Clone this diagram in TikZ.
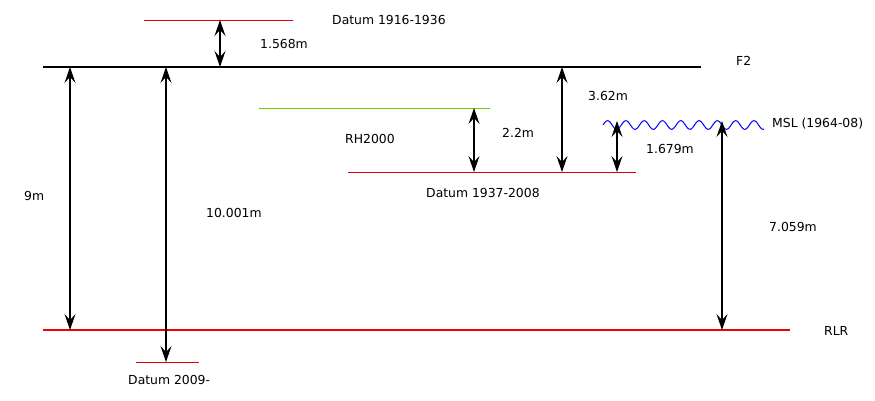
\documentclass[tikz,border=0pt]{standalone}
\usepackage{fontspec}
\setmainfont{DejaVu Sans}
\usetikzlibrary{arrows.meta}
\begin{document}
\begin{tikzpicture}[x=1pt,y=-1pt,
  lbl/.style={anchor=west,inner sep=0pt,font=\fontsize{12.4}{14}\selectfont},
  redline/.style={draw={rgb,255:red,220;green,0;blue,0},line width=1pt},
  thickred/.style={draw={rgb,255:red,240;green,0;blue,0},line width=2pt},
  tip/.tip={Stealth[length=16pt,width=11pt,inset=6pt]},
  dim/.style={line width=1.2pt,tip-tip}]
\useasboundingbox (0,0) rectangle (875,400);
% levels
\coordinate (d16l) at (144,20);  \coordinate (d16r) at (293,20);
\coordinate (f2l) at (43,67);    \coordinate (f2r) at (701,67);
\coordinate (rhl) at (259,108);  \coordinate (rhr) at (490,108);
\coordinate (d37l) at (348,172); \coordinate (d37r) at (636,172);
\coordinate (rlrl) at (43,330);  \coordinate (rlrr) at (790,330);
\coordinate (d09l) at (136,362); \coordinate (d09r) at (199,362);
\draw[redline] (d16l) -- (d16r);
\draw[line width=2pt] (f2l) -- (f2r);
\draw[draw={rgb,255:red,120;green,200;blue,0},line width=1pt] (rhl) -- (rhr);
\draw[redline] (d37l) -- (d37r);
\draw[thickred] (rlrl) -- (rlrr);
\draw[redline] (d09l) -- (d09r);
\draw[blue,line width=1pt] plot[domain=0:161,samples=240,smooth] ({\x+603},{125-4.3*sin(19.672*\x)});
% arrow end points
\coordinate (a1t) at (220,20);  \coordinate (a1b) at (220,67);
\coordinate (a9t) at (70,67);   \coordinate (a9b) at (70,330);
\coordinate (a10t) at (166,67); \coordinate (a10b) at (166,362);
\coordinate (a22t) at (474,108);\coordinate (a22b) at (474,172);
\coordinate (a36t) at (562,67); \coordinate (a36b) at (562,172);
\coordinate (a16t) at (617,121);\coordinate (a16b) at (617,172);
\coordinate (a70t) at (722,121);\coordinate (a70b) at (722,330);
\draw[dim] (a1t) -- (a1b);
\draw[dim] (a9t) -- (a9b);
\draw[dim] (a10t) -- (a10b);
\draw[dim] (a22t) -- (a22b);
\draw[dim] (a36t) -- (a36b);
\draw[dim] (a16t) -- (a16b);
\draw[dim] (a70t) -- (a70b);
% labels
\node[lbl] (ld16) at (332,20) {Datum 1916-1936};
\node[lbl] (l1568) at (260,44) {1.568m};
\node[lbl] (lf2) at (736,61) {F2};
\node[lbl] (l362) at (588,96) {3.62m};
\node[lbl] (lmsl) at (772,124) {MSL (1964-08)};
\node[lbl] (l22) at (502,133) {2.2m};
\node[lbl] (lrh) at (345,139) {RH2000};
\node[lbl] (l1679) at (646,149) {1.679m};
\node[lbl] (ld37) at (426,193) {Datum 1937-2008};
\node[lbl] (l9) at (24,196) {9m};
\node[lbl] (l10) at (206,213) {10.001m};
\node[lbl] (l7059) at (769,227) {7.059m};
\node[lbl] (lrlr) at (824,331) {RLR};
\node[lbl] (ld09) at (128,380) {Datum 2009-};
\end{tikzpicture}
\end{document}
